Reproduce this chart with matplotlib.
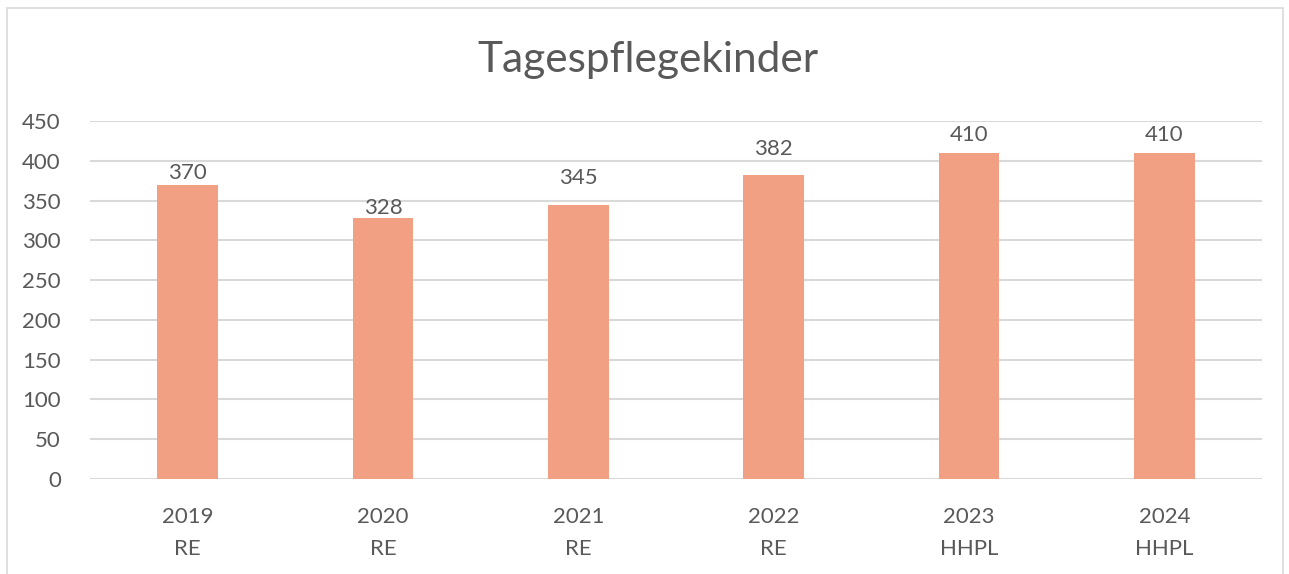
import numpy as np
import matplotlib.pyplot as plt
from matplotlib.patches import Rectangle

plt.rcParams['font.family'] = ['Lato', 'DejaVu Sans']

years = ['2019', '2020', '2021', '2022', '2023', '2024']
kinds = ['RE', 'RE', 'RE', 'RE', 'HHPL', 'HHPL']
values = [370, 328, 345, 382, 410, 410]

# label lift above bar top in points (Excel placed them unevenly)
label_lift = [1, 0, 12, 12, 6, 6]

text_col = '#595959'
grid_col = '#D9D9D9'
bar_col = '#F1A084'

fig = plt.figure(figsize=(12.89, 5.74), dpi=100)
ax = fig.add_axes([0.0698, 0.1655, 0.9092, 0.6235])

# outer chart frame
fig.patches.append(Rectangle((7 / 1289, -0.1), 1276 / 1289, 1.1 - 8 / 574,
                             transform=fig.transFigure, fill=False,
                             edgecolor=grid_col, linewidth=1.2))

x = np.arange(len(values))
ax.bar(x, values, width=0.31, color=bar_col, zorder=3)

for i, v in enumerate(values):
    ax.annotate(str(v), (x[i], v), xytext=(0, label_lift[i]),
                textcoords='offset points', ha='center', va='bottom',
                fontsize=16, color=text_col)

ax.set_xlim(-0.5, len(values) - 0.5)
ax.set_ylim(0, 450)
ax.set_yticks(np.arange(0, 451, 50))
ax.grid(axis='y', color=grid_col, linewidth=1.5, zorder=0)
ax.set_xticks(x)
ax.set_xticklabels([f'{y}\n{k}' for y, k in zip(years, kinds)],
                   linespacing=1.75)
ax.tick_params(axis='both', length=0, labelsize=16, labelcolor=text_col)
ax.tick_params(axis='x', pad=20)
ax.tick_params(axis='y', pad=21)
for s in ax.spines.values():
    s.set_visible(False)

fig.text(0.503, 0.895, 'Tagespflegekinder', ha='center', va='center',
         fontsize=30.5, color=text_col)

fig.savefig('out.png', dpi=100)
